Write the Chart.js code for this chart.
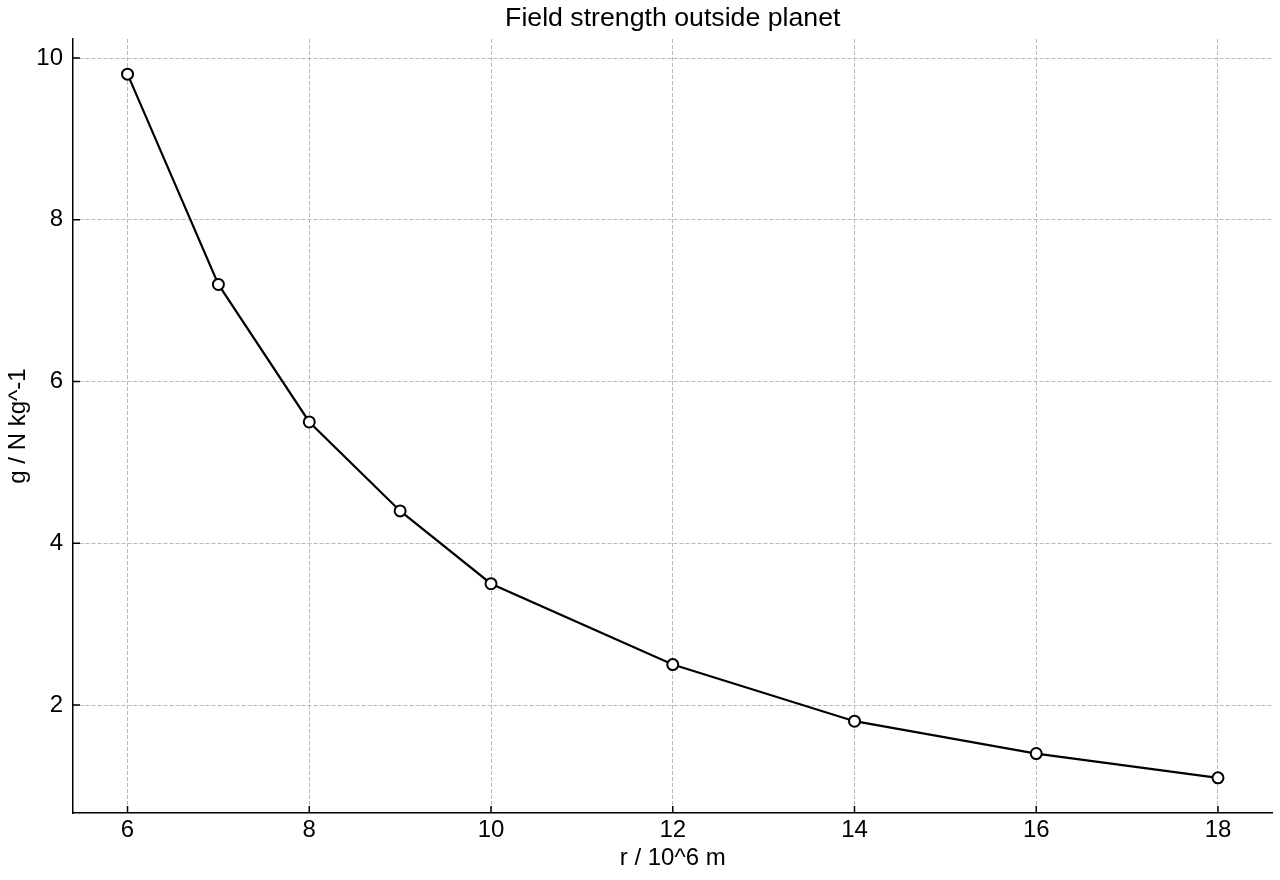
<!DOCTYPE html>
<html>
<head>
<meta charset="utf-8">
<title>Field strength outside planet</title>
<script src="https://cdn.jsdelivr.net/npm/chart.js@4.4.1/dist/chart.umd.min.js"></script>
<style>
  html, body { margin: 0; padding: 0; background: #fff; }
  #wrap { width: 1280px; height: 880px; }
</style>
</head>
<body>
<div id="wrap"><canvas id="fieldChart"></canvas></div>
<script>
// distance from centre (10^6 m) and field strength (N/kg)
const radius = [6, 7, 8, 9, 10, 12, 14, 16, 18];
const fieldG = [9.8, 7.2, 5.5, 4.4, 3.5, 2.5, 1.8, 1.4, 1.1];
const xTicks = [6, 8, 10, 12, 14, 16, 18];
const yTicks = [2, 4, 6, 8, 10];
const chartTitle = 'Field strength outside planet';

const FONT = '"Liberation Sans", Arial, Helvetica, sans-serif';

// matplotlib-style 5% margins
function padRange(arr) {
  const lo = Math.min(...arr), hi = Math.max(...arr);
  const m = (hi - lo) * 0.05;
  return [lo - m, hi + m];
}
const [xMin, xMax] = padRange(radius);
const [yMin, yMax] = padRange(fieldG);

// small ticks pointing into the plot + title centred over the axes
const axesExtras = {
  id: 'axesExtras',
  afterDraw(chart) {
    const { ctx, chartArea, scales } = chart;
    ctx.save();
    ctx.strokeStyle = '#000';
    ctx.lineWidth = 1.5;
    ctx.beginPath();
    scales.x.ticks.forEach(t => {
      const px = scales.x.getPixelForValue(t.value);
      ctx.moveTo(px, chartArea.bottom);
      ctx.lineTo(px, chartArea.bottom - 7);
    });
    scales.y.ticks.forEach(t => {
      const py = scales.y.getPixelForValue(t.value);
      ctx.moveTo(chartArea.left, py);
      ctx.lineTo(chartArea.left + 7, py);
    });
    ctx.stroke();

    ctx.fillStyle = '#000';
    ctx.font = '26.7px ' + FONT;
    ctx.textAlign = 'center';
    ctx.textBaseline = 'middle';
    ctx.fillText(chartTitle, (chartArea.left + chartArea.right) / 2, 19);
    ctx.restore();
  }
};

new Chart(document.getElementById('fieldChart'), {
  type: 'line',
  data: {
    datasets: [{
      data: radius.map((r, i) => ({ x: r, y: fieldG[i] })),
      borderColor: '#000',
      borderWidth: 2.2,
      tension: 0,
      pointRadius: 5.5,
      pointBorderWidth: 2,
      pointBackgroundColor: '#fff',
      pointBorderColor: '#000'
    }]
  },
  options: {
    responsive: true,
    maintainAspectRatio: false,
    animation: false,
    layout: { padding: { left: 0, right: 7, top: 39, bottom: 0 } },
    plugins: {
      legend: { display: false },
      tooltip: { enabled: false },
      title: { display: false }
    },
    scales: {
      x: {
        type: 'linear',
        min: xMin,
        max: xMax,
        afterBuildTicks: s => { s.ticks = xTicks.map(v => ({ value: v })); },
        afterFit: s => { s.height = 67; },
        ticks: { color: '#000', padding: 3, font: { family: FONT, size: 24 } },
        grid: { color: '#b8b8b8', lineWidth: 1, drawTicks: false },
        border: { display: true, color: '#000', width: 1.5, dash: [4, 2] },
        title: {
          display: true,
          text: 'r / 10^6 m',
          color: '#000',
          font: { family: FONT, size: 24 },
          padding: { top: 0, bottom: 7 }
        }
      },
      y: {
        type: 'linear',
        min: yMin,
        max: yMax,
        afterBuildTicks: s => { s.ticks = yTicks.map(v => ({ value: v })); },
        afterFit: s => { s.width = 73; },
        ticks: { color: '#000', padding: 10, font: { family: FONT, size: 24 } },
        grid: { color: '#b8b8b8', lineWidth: 1, drawTicks: false },
        border: { display: true, color: '#000', width: 1.5, dash: [4, 2] },
        title: {
          display: true,
          text: 'g / N kg^-1',
          color: '#000',
          font: { family: FONT, size: 24 },
          padding: { top: 4, bottom: 0 }
        }
      }
    }
  },
  plugins: [axesExtras]
});
</script>
</body>
</html>
